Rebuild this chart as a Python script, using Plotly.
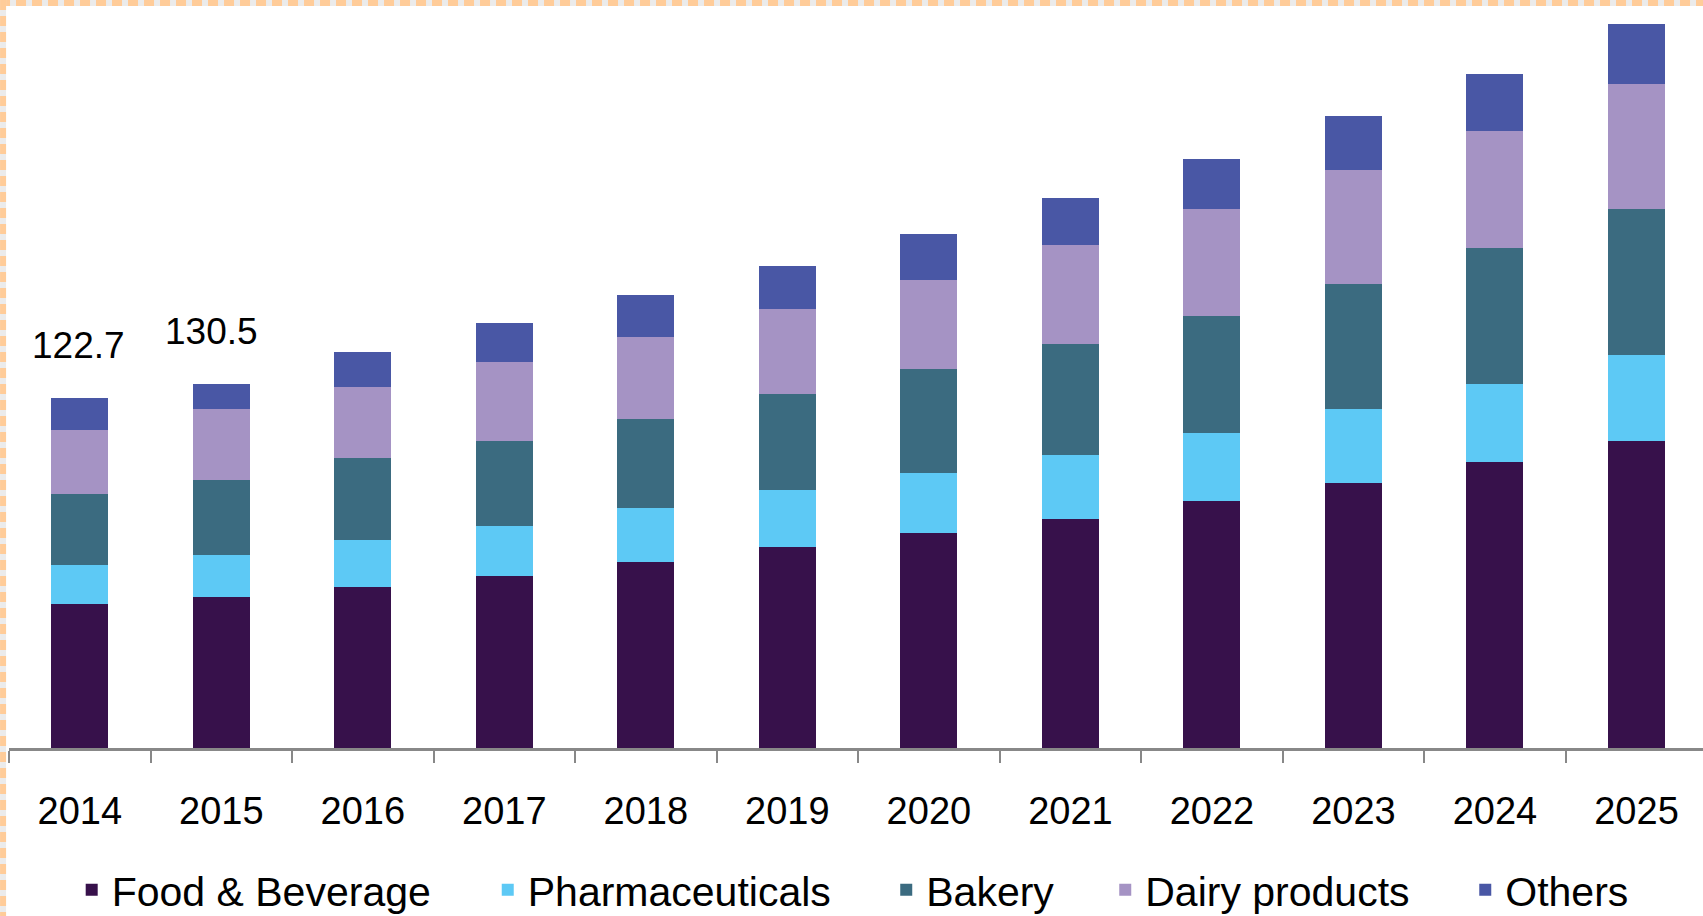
import plotly.graph_objects as go

years = ["2014", "2015", "2016", "2017", "2018", "2019", "2020", "2021", "2022", "2023", "2024", "2025"]
food = [50.5, 52.9, 56.4, 60.3, 65.2, 70.5, 75.4, 80.3, 86.6, 92.9, 100.3, 107.6]
pharma = [13.7, 14.7, 16.5, 17.5, 18.9, 20.0, 21.0, 22.4, 23.8, 25.9, 27.3, 30.2]
bakery = [24.9, 26.3, 28.7, 29.8, 31.2, 33.7, 36.5, 38.9, 41.0, 43.8, 47.7, 51.2]
dairy = [22.4, 24.9, 24.9, 27.7, 28.7, 29.8, 31.2, 34.7, 37.5, 40.0, 41.0, 43.8]
others = [11.2, 8.8, 12.3, 13.7, 14.7, 15.1, 16.1, 16.5, 17.5, 18.9, 20.0, 21.0]
label_years = ["2014", "2015"]
label_texts = ["122.7", "130.5"]

names = ["Food & Beverage", "Pharmaceuticals", "Bakery", "Dairy products", "Others"]
colors = ["#37114B", "#5DC9F5", "#3B6B80", "#A593C4", "#4957A5"]
legend_x = [0.0421, 0.2864, 0.5204, 0.6490, 0.8604]

REG = "Liberation Sans, Arial, sans-serif"

fig = go.Figure()
for k, (name, vals, col) in enumerate(zip(names, [food, pharma, bakery, dairy, others], colors)):
    lg = "legend" if k == 0 else f"legend{k+1}"
    fig.add_trace(go.Bar(x=years, y=vals, name=name, legend=lg,
                         marker=dict(color=col, line=dict(width=0))))

totals = [sum(v) for v in zip(food, pharma, bakery, dairy, others)]
label_xshift = [-1, -10]
for yr, txt, xs in zip(label_years, label_texts, label_xshift):
    i = years.index(yr)
    fig.add_annotation(x=i, y=totals[i], text=txt, showarrow=False, yshift=52, xshift=xs,
                       yanchor="middle", font=dict(family=REG, size=37, color="black"))

# dashed border on top and left
for x0, y0, x1, y1 in [(-0.0053, 1.0095, 1.0, 1.0095), (-0.0035, 1.0136, -0.0035, -0.2276)]:
    fig.add_shape(type="line", xref="paper", yref="paper", x0=x0, y0=y0, x1=x1, y1=y1,
                  line=dict(color="#EBEBEB", width=6), layer="above")
    fig.add_shape(type="line", xref="paper", yref="paper", x0=x0, y0=y0, x1=x1, y1=y1,
                  line=dict(color="#FFCC99", width=6, dash="10px,6px"), layer="above")

legend_style = dict(orientation="h", xanchor="left", xref="container", yref="container",
                    y=0.0284, yanchor="middle",
                    font=dict(family=REG, size=41, color="black"), itemwidth=30,
                    bgcolor="rgba(0,0,0,0)")
layout_legends = {}
for k, lx in enumerate(legend_x):
    key = "legend" if k == 0 else f"legend{k+1}"
    layout_legends[key] = dict(legend_style, x=lx)

fig.update_layout(
    barmode="stack",
    bargap=0.597,
    width=1703, height=916,
    margin=dict(l=9, r=0, t=10, b=168, autoexpand=False),
    paper_bgcolor="white", plot_bgcolor="white",
    font=dict(family=REG, size=38, color="black"),
    showlegend=True,
    xaxis=dict(type="category", range=[-0.5, 11.47], showline=True, linecolor="#888888", linewidth=3,
               ticks="outside", tickson="boundaries", ticklen=12, tickwidth=2, tickcolor="#888888",
               showgrid=False, zeroline=False, ticklabelstandoff=27,
               tickfont=dict(family=REG, size=38, color="black")),
    yaxis=dict(range=[0, 258.7], visible=False, showgrid=False, zeroline=False),
    **layout_legends,
)

fig.write_html("out.html", config={"displayModeBar": False},
               post_script="document.body.style.margin='0px';")
